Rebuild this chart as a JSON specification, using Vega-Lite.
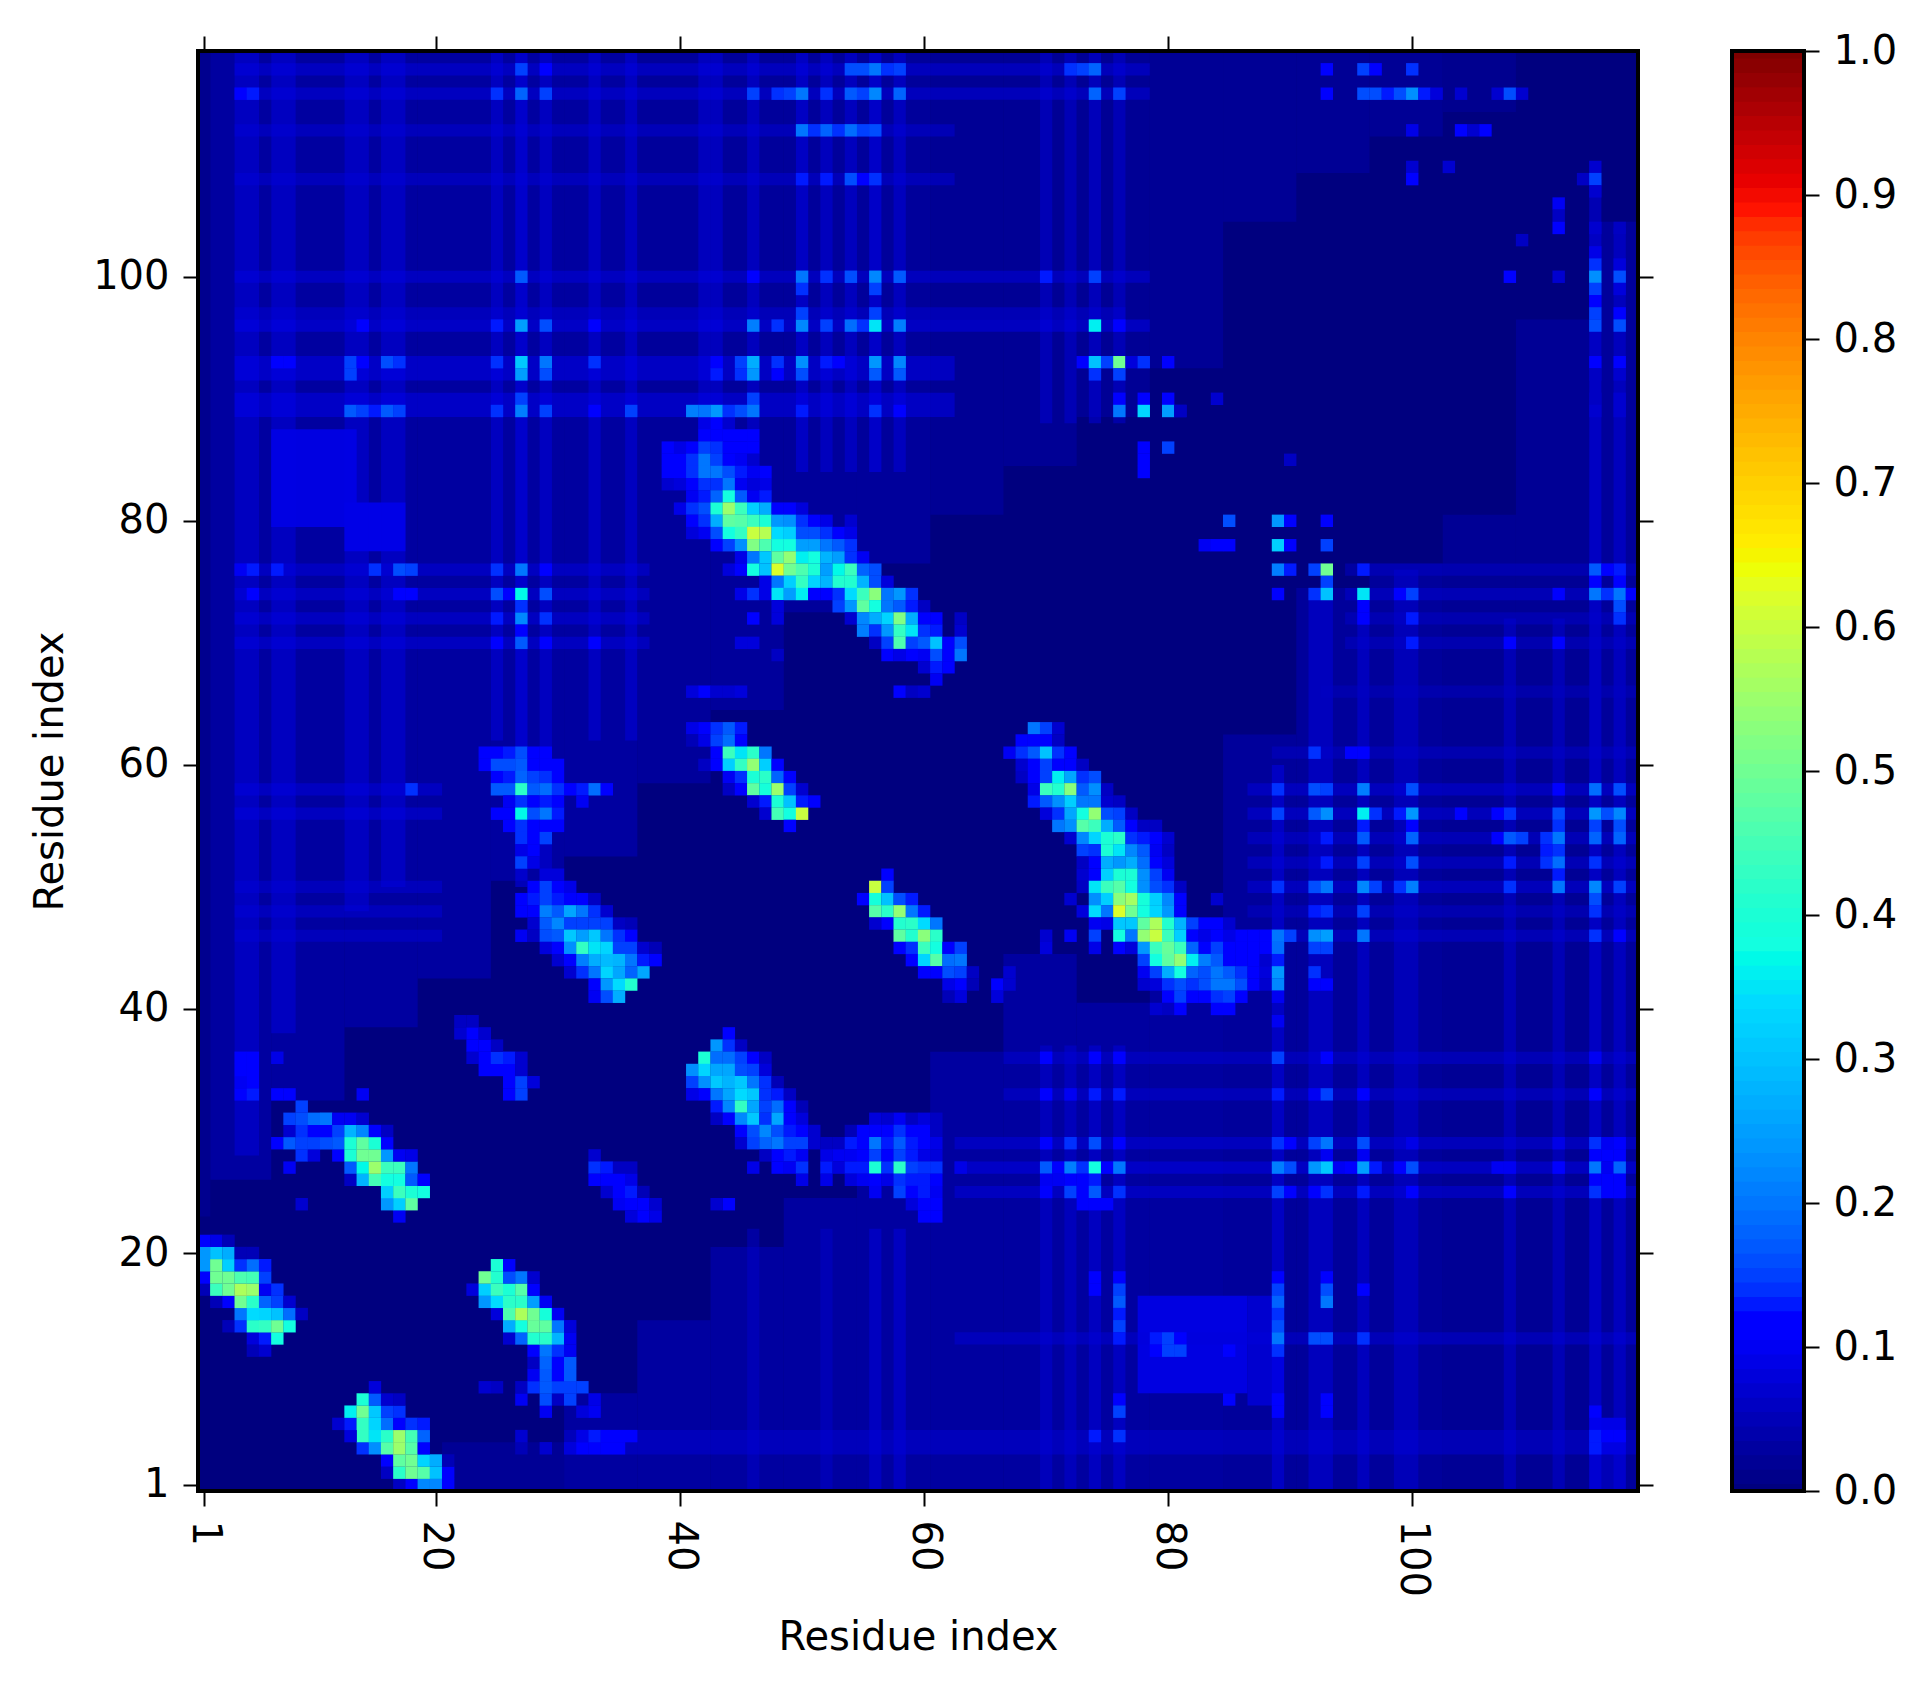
{"$schema":"https://vega.github.io/schema/vega-lite/v6.json","background":"white","padding":{"left":30,"top":31,"right":0,"bottom":0},"spacing":76,"config":{"font":"DejaVu Sans","view":{"stroke":null},"axis":{"labelFont":"DejaVu Sans","titleFont":"DejaVu Sans","labelColor":"black","titleColor":"black","tickColor":"black","grid":false,"domain":false,"tickSize":15,"tickWidth":2,"labelFontSize":40,"titleFontSize":40,"titleFontWeight":"normal","labelPadding":14,"labelFlush":false,"labelOverlap":false}},
"datasets":{"blocks":[
{"x0":0.5,"x1":118.5,"y0":0.5,"y1":118.5,"v":0.0},
{"x0":1.5,"x1":6.5,"y0":26,"y1":118.5,"v":0.03},{"x0":0.5,"x1":1.5,"y0":23,"y1":118.5,"v":0.015},{"x0":6.5,"x1":12.5,"y0":32.5,"y1":118.5,"v":0.03},{"x0":12.5,"x1":18.5,"y0":38.5,"y1":118.5,"v":0.03},{"x0":18.5,"x1":24.5,"y0":42.5,"y1":118.5,"v":0.03},{"x0":24.5,"x1":30.5,"y0":50.5,"y1":118.5,"v":0.03},{"x0":30.5,"x1":36.5,"y0":52.5,"y1":118.5,"v":0.03},{"x0":36.5,"x1":42.5,"y0":58.5,"y1":118.5,"v":0.025},{"x0":42.5,"x1":48.5,"y0":64.5,"y1":118.5,"v":0.025},{"x0":48.5,"x1":54.5,"y0":72.5,"y1":118.5,"v":0.025},{"x0":54.5,"x1":60.5,"y0":76.5,"y1":118.5,"v":0.025},{"x0":60.5,"x1":66.5,"y0":80.5,"y1":118.5,"v":0.02},{"x0":66.5,"x1":72.5,"y0":84.5,"y1":118.5,"v":0.02},{"x0":72.5,"x1":78.5,"y0":88.5,"y1":118.5,"v":0.02},{"x0":78.5,"x1":84.5,"y0":92.5,"y1":118.5,"v":0.02},{"x0":84.5,"x1":90.5,"y0":104.5,"y1":118.5,"v":0.02},{"x0":90.5,"x1":96.5,"y0":108.5,"y1":118.5,"v":0.02},{"x0":96.5,"x1":102.5,"y0":111.5,"y1":118.5,"v":0.02},{"x0":102.5,"x1":108.5,"y0":113.5,"y1":118.5,"v":0.015},
{"x0":20.5,"x1":30.5,"y0":0.5,"y1":4.5,"v":0.02},{"x0":30.5,"x1":36.5,"y0":0.5,"y1":8.5,"v":0.03},{"x0":36.5,"x1":42.5,"y0":0.5,"y1":14.5,"v":0.03},{"x0":42.5,"x1":48.5,"y0":0.5,"y1":20.5,"v":0.03},{"x0":48.5,"x1":54.5,"y0":0.5,"y1":24.5,"v":0.03},{"x0":54.5,"x1":60.5,"y0":0.5,"y1":28.5,"v":0.03},{"x0":60.5,"x1":66.5,"y0":0.5,"y1":36.5,"v":0.03},{"x0":66.5,"x1":72.5,"y0":0.5,"y1":44.5,"v":0.03},{"x0":72.5,"x1":78.5,"y0":0.5,"y1":40.5,"v":0.03},{"x0":78.5,"x1":84.5,"y0":0.5,"y1":46.5,"v":0.03},{"x0":84.5,"x1":90.5,"y0":0.5,"y1":62.5,"v":0.025},{"x0":90.5,"x1":96.5,"y0":0.5,"y1":74.5,"v":0.025},{"x0":96.5,"x1":102.5,"y0":0.5,"y1":76.5,"v":0.025},{"x0":102.5,"x1":108.5,"y0":0.5,"y1":80.5,"v":0.02},{"x0":108.5,"x1":114.5,"y0":0.5,"y1":96.5,"v":0.02},{"x0":114.5,"x1":118.5,"y0":0.5,"y1":104.5,"v":0.025},
{"x0":6.5,"x1":13.5,"y0":79.5,"y1":87.5,"v":0.085},{"x0":12.5,"x1":17.5,"y0":77.5,"y1":81.5,"v":0.09},{"x0":77.5,"x1":86.5,"y0":8.5,"y1":16.5,"v":0.085},{"x0":86.5,"x1":89.5,"y0":7.5,"y1":16.5,"v":0.07},{"x0":114.5,"x1":117.5,"y0":0.5,"y1":3.5,"v":0.05},{"x0":114.5,"x1":117.5,"y0":3.5,"y1":6.5,"v":0.09}
],"stripes":[
{"x0":3.5,"x1":5.5,"y0":28,"y1":118.5,"v":0.09},{"x0":6.5,"x1":8.5,"y0":38,"y1":118.5,"v":0.09},{"x0":12.5,"x1":14.5,"y0":48,"y1":118.5,"v":0.09},{"x0":15.5,"x1":17.5,"y0":50,"y1":118.5,"v":0.09},{"x0":24.5,"x1":25.5,"y0":62,"y1":118.5,"v":0.09},{"x0":26.5,"x1":27.5,"y0":50,"y1":118.5,"v":0.11},{"x0":28.5,"x1":29.5,"y0":50,"y1":118.5,"v":0.09},{"x0":32.5,"x1":33.5,"y0":62,"y1":118.5,"v":0.09},{"x0":35.5,"x1":36.5,"y0":62,"y1":118.5,"v":0.09},{"x0":41.5,"x1":43.5,"y0":84,"y1":118.5,"v":0.09},{"x0":45.5,"x1":46.5,"y0":84,"y1":118.5,"v":0.09},{"x0":49.5,"x1":50.5,"y0":84,"y1":118.5,"v":0.1},{"x0":51.5,"x1":52.5,"y0":84,"y1":118.5,"v":0.09},{"x0":53.5,"x1":54.5,"y0":84,"y1":118.5,"v":0.09},{"x0":55.5,"x1":56.5,"y0":84,"y1":118.5,"v":0.11},{"x0":57.5,"x1":58.5,"y0":84,"y1":118.5,"v":0.09},{"x0":69.5,"x1":70.5,"y0":88,"y1":118.5,"v":0.08},{"x0":71.5,"x1":72.5,"y0":88,"y1":118.5,"v":0.08},{"x0":73.5,"x1":74.5,"y0":88,"y1":118.5,"v":0.09},{"x0":75.5,"x1":76.5,"y0":88,"y1":118.5,"v":0.08},
{"x0":3.5,"x1":78.5,"y0":116.5,"y1":117.5,"v":0.09},{"x0":3.5,"x1":78.5,"y0":114.5,"y1":115.5,"v":0.09},{"x0":3.5,"x1":62.5,"y0":111.5,"y1":112.5,"v":0.08},{"x0":3.5,"x1":62.5,"y0":107.5,"y1":108.5,"v":0.08},{"x0":3.5,"x1":78.5,"y0":99.5,"y1":100.5,"v":0.09},{"x0":3.5,"x1":76.5,"y0":96.5,"y1":97.5,"v":0.08},{"x0":3.5,"x1":78.5,"y0":95.5,"y1":96.5,"v":0.1},{"x0":3.5,"x1":62.5,"y0":91.5,"y1":93.5,"v":0.1},{"x0":3.5,"x1":62.5,"y0":88.5,"y1":90.5,"v":0.1},{"x0":3.5,"x1":37.5,"y0":75.5,"y1":76.5,"v":0.09},{"x0":3.5,"x1":37.5,"y0":73.5,"y1":74.5,"v":0.09},{"x0":3.5,"x1":37.5,"y0":71.5,"y1":72.5,"v":0.09},{"x0":3.5,"x1":37.5,"y0":69.5,"y1":70.5,"v":0.09},{"x0":3.5,"x1":20.5,"y0":57.5,"y1":58.5,"v":0.09},{"x0":3.5,"x1":20.5,"y0":55.5,"y1":56.5,"v":0.09},{"x0":3.5,"x1":20.5,"y0":49.5,"y1":50.5,"v":0.08},{"x0":3.5,"x1":20.5,"y0":47.5,"y1":48.5,"v":0.08},{"x0":3.5,"x1":20.5,"y0":45.5,"y1":46.5,"v":0.08},
{"x0":69.5,"x1":70.5,"y0":0.5,"y1":37,"v":0.08},{"x0":71.5,"x1":72.5,"y0":0.5,"y1":37,"v":0.08},{"x0":73.5,"x1":74.5,"y0":0.5,"y1":37,"v":0.09},{"x0":75.5,"x1":76.5,"y0":0.5,"y1":37,"v":0.09},{"x0":88.5,"x1":89.5,"y0":0.5,"y1":60,"v":0.1},{"x0":91.5,"x1":93.5,"y0":0.5,"y1":74,"v":0.09},{"x0":95.5,"x1":96.5,"y0":0.5,"y1":72,"v":0.09},{"x0":98.5,"x1":100.5,"y0":0.5,"y1":76,"v":0.08},{"x0":107.5,"x1":108.5,"y0":0.5,"y1":72,"v":0.08},{"x0":111.5,"x1":112.5,"y0":0.5,"y1":72,"v":0.08},{"x0":114.5,"x1":115.5,"y0":0.5,"y1":108,"v":0.1},{"x0":116.5,"x1":117.5,"y0":0.5,"y1":104,"v":0.09},{"x0":45.5,"x1":46.5,"y0":0.5,"y1":22,"v":0.07},{"x0":51.5,"x1":52.5,"y0":0.5,"y1":22,"v":0.07},{"x0":55.5,"x1":56.5,"y0":0.5,"y1":22,"v":0.09},{"x0":57.5,"x1":58.5,"y0":0.5,"y1":22,"v":0.09},
{"x0":30.5,"x1":118.5,"y0":3.5,"y1":5.5,"v":0.08},{"x0":62.5,"x1":118.5,"y0":12.5,"y1":13.5,"v":0.08},{"x0":62.5,"x1":118.5,"y0":24.5,"y1":25.5,"v":0.09},{"x0":62.5,"x1":118.5,"y0":26.5,"y1":27.5,"v":0.1},{"x0":62.5,"x1":118.5,"y0":28.5,"y1":29.5,"v":0.09},{"x0":66.5,"x1":118.5,"y0":32.5,"y1":33.5,"v":0.08},{"x0":66.5,"x1":118.5,"y0":35.5,"y1":36.5,"v":0.08},{"x0":86.5,"x1":118.5,"y0":45.5,"y1":46.5,"v":0.08},{"x0":86.5,"x1":118.5,"y0":47.5,"y1":48.5,"v":0.07},{"x0":86.5,"x1":118.5,"y0":49.5,"y1":50.5,"v":0.09},{"x0":86.5,"x1":118.5,"y0":51.5,"y1":52.5,"v":0.08},{"x0":86.5,"x1":118.5,"y0":53.5,"y1":54.5,"v":0.08},{"x0":86.5,"x1":118.5,"y0":55.5,"y1":56.5,"v":0.09},{"x0":86.5,"x1":118.5,"y0":57.5,"y1":58.5,"v":0.09},{"x0":88.5,"x1":118.5,"y0":60.5,"y1":61.5,"v":0.07},{"x0":92.5,"x1":118.5,"y0":65.5,"y1":66.5,"v":0.06},{"x0":94.5,"x1":118.5,"y0":69.5,"y1":70.5,"v":0.07},{"x0":94.5,"x1":118.5,"y0":71.5,"y1":72.5,"v":0.07},{"x0":94.5,"x1":118.5,"y0":73.5,"y1":74.5,"v":0.08},{"x0":94.5,"x1":118.5,"y0":75.5,"y1":76.5,"v":0.07}
],
"cells":[
{"x":17,"y":1,"v":0.06},{"x":18,"y":1,"v":0.11},{"x":19,"y":1,"v":0.22},{"x":20,"y":1,"v":0.22},{"x":21,"y":1,"v":0.11},{"x":16,"y":2,"v":0.06},{"x":17,"y":2,"v":0.42},{"x":18,"y":2,"v":0.5},{"x":19,"y":2,"v":0.47},{"x":20,"y":2,"v":0.3},{"x":21,"y":2,"v":0.11},{"x":16,"y":3,"v":0.12},{"x":17,"y":3,"v":0.48},{"x":18,"y":3,"v":0.5},{"x":19,"y":3,"v":0.33},{"x":20,"y":3,"v":0.27},{"x":21,"y":3,"v":0.05},
{"x":14,"y":4,"v":0.14},{"x":15,"y":4,"v":0.23},{"x":16,"y":4,"v":0.47},{"x":17,"y":4,"v":0.55},{"x":18,"y":4,"v":0.47},{"x":19,"y":4,"v":0.12},{"x":14,"y":5,"v":0.43},{"x":15,"y":5,"v":0.35},{"x":16,"y":5,"v":0.42},{"x":17,"y":5,"v":0.55},{"x":18,"y":5,"v":0.45},{"x":19,"y":5,"v":0.18},{"x":13,"y":5,"v":0.08},{"x":12,"y":6,"v":0.07},{"x":13,"y":6,"v":0.13},{"x":14,"y":6,"v":0.43},{"x":15,"y":6,"v":0.33},{"x":16,"y":6,"v":0.19},{"x":17,"y":6,"v":0.11},{"x":18,"y":6,"v":0.14},{"x":19,"y":6,"v":0.13},{"x":13,"y":7,"v":0.36},{"x":14,"y":7,"v":0.5},{"x":15,"y":7,"v":0.31},{"x":16,"y":7,"v":0.15},{"x":17,"y":7,"v":0.14},{"x":14,"y":8,"v":0.4},{"x":15,"y":8,"v":0.17},{"x":16,"y":8,"v":0.07},{"x":17,"y":8,"v":0.06},{"x":15,"y":9,"v":0.08},
{"x":27,"y":4,"v":0.05},{"x":29,"y":4,"v":0.07},{"x":31,"y":4,"v":0.08},{"x":32,"y":4,"v":0.11},{"x":33,"y":4,"v":0.12},{"x":34,"y":4,"v":0.11},{"x":35,"y":4,"v":0.11},{"x":27,"y":5,"v":0.07},{"x":32,"y":5,"v":0.09},{"x":33,"y":5,"v":0.13},{"x":34,"y":5,"v":0.11},{"x":35,"y":5,"v":0.11},{"x":36,"y":5,"v":0.11},{"x":29,"y":7,"v":0.1},{"x":32,"y":7,"v":0.08},{"x":33,"y":7,"v":0.1},{"x":27,"y":8,"v":0.1},{"x":29,"y":8,"v":0.16},{"x":30,"y":8,"v":0.06},{"x":31,"y":8,"v":0.15},{"x":33,"y":8,"v":0.09},{"x":24,"y":9,"v":0.07},{"x":25,"y":9,"v":0.06},{"x":27,"y":9,"v":0.06},{"x":28,"y":9,"v":0.14},{"x":29,"y":9,"v":0.17},{"x":30,"y":9,"v":0.15},{"x":31,"y":9,"v":0.15},{"x":32,"y":9,"v":0.15},{"x":28,"y":10,"v":0.1},{"x":29,"y":10,"v":0.17},{"x":30,"y":10,"v":0.11},{"x":31,"y":10,"v":0.17},{"x":28,"y":11,"v":0.06},{"x":29,"y":11,"v":0.18},{"x":30,"y":11,"v":0.11},{"x":31,"y":11,"v":0.17},
{"x":5,"y":12,"v":0.05},{"x":6,"y":12,"v":0.07},{"x":28,"y":12,"v":0.11},{"x":29,"y":12,"v":0.2},{"x":30,"y":12,"v":0.14},{"x":31,"y":12,"v":0.1},{"x":5,"y":13,"v":0.08},{"x":6,"y":13,"v":0.13},{"x":7,"y":13,"v":0.38},{"x":26,"y":13,"v":0.07},{"x":27,"y":13,"v":0.18},{"x":28,"y":13,"v":0.41},{"x":29,"y":13,"v":0.42},{"x":30,"y":13,"v":0.28},{"x":31,"y":13,"v":0.1},{"x":3,"y":14,"v":0.05},{"x":4,"y":14,"v":0.14},{"x":5,"y":14,"v":0.42},{"x":6,"y":14,"v":0.43},{"x":7,"y":14,"v":0.5},{"x":8,"y":14,"v":0.38},{"x":26,"y":14,"v":0.27},{"x":27,"y":14,"v":0.38},{"x":28,"y":14,"v":0.49},{"x":29,"y":14,"v":0.48},{"x":30,"y":14,"v":0.2},{"x":31,"y":14,"v":0.08},{"x":4,"y":15,"v":0.2},{"x":5,"y":15,"v":0.34},{"x":6,"y":15,"v":0.33},{"x":7,"y":15,"v":0.3},{"x":8,"y":15,"v":0.19},{"x":9,"y":15,"v":0.06},{"x":25,"y":15,"v":0.08},{"x":26,"y":15,"v":0.46},{"x":27,"y":15,"v":0.57},{"x":28,"y":15,"v":0.5},{"x":29,"y":15,"v":0.39},{"x":30,"y":15,"v":0.1},
{"x":2,"y":16,"v":0.05},{"x":3,"y":16,"v":0.12},{"x":4,"y":16,"v":0.5},{"x":5,"y":16,"v":0.42},{"x":6,"y":16,"v":0.18},{"x":7,"y":16,"v":0.15},{"x":8,"y":16,"v":0.07},{"x":24,"y":16,"v":0.24},{"x":25,"y":16,"v":0.34},{"x":26,"y":16,"v":0.42},{"x":27,"y":16,"v":0.42},{"x":28,"y":16,"v":0.25},{"x":29,"y":16,"v":0.1},{"x":1,"y":17,"v":0.05},{"x":2,"y":17,"v":0.44},{"x":3,"y":17,"v":0.5},{"x":4,"y":17,"v":0.57},{"x":5,"y":17,"v":0.55},{"x":6,"y":17,"v":0.1},{"x":7,"y":17,"v":0.14},{"x":23,"y":17,"v":0.08},{"x":24,"y":17,"v":0.32},{"x":25,"y":17,"v":0.44},{"x":26,"y":17,"v":0.4},{"x":27,"y":17,"v":0.47},{"x":28,"y":17,"v":0.11},{"x":1,"y":18,"v":0.11},{"x":2,"y":18,"v":0.5},{"x":3,"y":18,"v":0.5},{"x":4,"y":18,"v":0.46},{"x":5,"y":18,"v":0.45},{"x":6,"y":18,"v":0.15},{"x":24,"y":18,"v":0.5},{"x":25,"y":18,"v":0.41},{"x":26,"y":18,"v":0.16},{"x":27,"y":18,"v":0.2},{"x":28,"y":18,"v":0.07},{"x":1,"y":19,"v":0.24},{"x":2,"y":19,"v":0.5},{"x":3,"y":19,"v":0.32},{"x":4,"y":19,"v":0.14},{"x":5,"y":19,"v":0.19},{"x":6,"y":19,"v":0.13},{"x":25,"y":19,"v":0.4},{"x":26,"y":19,"v":0.11},{"x":1,"y":20,"v":0.24},{"x":2,"y":20,"v":0.3},{"x":3,"y":20,"v":0.27},{"x":4,"y":20,"v":0.05},{"x":5,"y":20,"v":0.05},{"x":1,"y":21,"v":0.11},{"x":2,"y":21,"v":0.09},{"x":3,"y":21,"v":0.05},
{"x":17,"y":23,"v":0.1},{"x":16,"y":24,"v":0.24},{"x":17,"y":24,"v":0.32},{"x":18,"y":24,"v":0.48},{"x":9,"y":24,"v":0.07},{"x":16,"y":25,"v":0.32},{"x":17,"y":25,"v":0.44},{"x":18,"y":25,"v":0.4},{"x":19,"y":25,"v":0.38},{"x":13,"y":26,"v":0.06},{"x":14,"y":26,"v":0.28},{"x":15,"y":26,"v":0.45},{"x":16,"y":26,"v":0.38},{"x":17,"y":26,"v":0.38},{"x":18,"y":26,"v":0.17},{"x":19,"y":26,"v":0.11},{"x":8,"y":27,"v":0.1},{"x":13,"y":27,"v":0.17},{"x":14,"y":27,"v":0.37},{"x":15,"y":27,"v":0.55},{"x":16,"y":27,"v":0.44},{"x":17,"y":27,"v":0.44},{"x":18,"y":27,"v":0.2},{"x":9,"y":28,"v":0.14},{"x":10,"y":28,"v":0.08},{"x":12,"y":28,"v":0.11},{"x":13,"y":28,"v":0.4},{"x":14,"y":28,"v":0.5},{"x":15,"y":28,"v":0.5},{"x":16,"y":28,"v":0.24},{"x":17,"y":28,"v":0.1},{"x":18,"y":28,"v":0.09},{"x":7,"y":29,"v":0.11},{"x":8,"y":29,"v":0.17},{"x":9,"y":29,"v":0.15},{"x":10,"y":29,"v":0.15},{"x":11,"y":29,"v":0.16},{"x":12,"y":29,"v":0.17},{"x":13,"y":29,"v":0.4},{"x":14,"y":29,"v":0.48},{"x":15,"y":29,"v":0.4},{"x":16,"y":29,"v":0.11},{"x":8,"y":30,"v":0.07},{"x":9,"y":30,"v":0.14},{"x":10,"y":30,"v":0.11},{"x":11,"y":30,"v":0.11},{"x":12,"y":30,"v":0.15},{"x":13,"y":30,"v":0.28},{"x":14,"y":30,"v":0.22},{"x":15,"y":30,"v":0.11},{"x":16,"y":30,"v":0.06},{"x":8,"y":31,"v":0.15},{"x":9,"y":31,"v":0.16},{"x":10,"y":31,"v":0.19},{"x":11,"y":31,"v":0.2},{"x":12,"y":31,"v":0.1},{"x":13,"y":31,"v":0.1},{"x":14,"y":31,"v":0.07},{"x":9,"y":32,"v":0.15},{"x":4,"y":33,"v":0.11},{"x":5,"y":33,"v":0.13},{"x":7,"y":33,"v":0.11},{"x":8,"y":33,"v":0.11},{"x":14,"y":33,"v":0.1},{"x":4,"y":34,"v":0.1},{"x":5,"y":34,"v":0.11},{"x":4,"y":35,"v":0.11},{"x":5,"y":35,"v":0.12},{"x":4,"y":36,"v":0.11},{"x":5,"y":36,"v":0.12},{"x":7,"y":36,"v":0.09},
{"x":26,"y":33,"v":0.12},{"x":27,"y":33,"v":0.15},{"x":26,"y":34,"v":0.12},{"x":27,"y":34,"v":0.15},{"x":28,"y":34,"v":0.08},{"x":24,"y":35,"v":0.11},{"x":25,"y":35,"v":0.12},{"x":26,"y":35,"v":0.12},{"x":27,"y":35,"v":0.07},{"x":23,"y":36,"v":0.07},{"x":24,"y":36,"v":0.11},{"x":25,"y":36,"v":0.14},{"x":26,"y":36,"v":0.13},{"x":27,"y":36,"v":0.07},{"x":23,"y":37,"v":0.11},{"x":24,"y":37,"v":0.11},{"x":25,"y":37,"v":0.06},{"x":22,"y":38,"v":0.07},{"x":23,"y":38,"v":0.11},{"x":24,"y":38,"v":0.07},{"x":22,"y":39,"v":0.06},{"x":23,"y":39,"v":0.06},
{"x":33,"y":28,"v":0.07},{"x":33,"y":27,"v":0.14},{"x":34,"y":27,"v":0.13},{"x":35,"y":27,"v":0.06},{"x":36,"y":27,"v":0.06},{"x":33,"y":26,"v":0.11},{"x":34,"y":26,"v":0.11},{"x":35,"y":26,"v":0.11},{"x":36,"y":26,"v":0.09},{"x":34,"y":25,"v":0.07},{"x":35,"y":25,"v":0.11},{"x":36,"y":25,"v":0.13},{"x":37,"y":25,"v":0.05},{"x":35,"y":24,"v":0.1},{"x":36,"y":24,"v":0.12},{"x":37,"y":24,"v":0.11},{"x":38,"y":24,"v":0.07},{"x":36,"y":23,"v":0.08},{"x":37,"y":23,"v":0.11},{"x":38,"y":23,"v":0.09},
{"x":28,"y":50,"v":0.11},{"x":29,"y":50,"v":0.15},{"x":30,"y":50,"v":0.11},{"x":31,"y":50,"v":0.09},{"x":27,"y":49,"v":0.11},{"x":28,"y":49,"v":0.13},{"x":29,"y":49,"v":0.15},{"x":30,"y":49,"v":0.13},{"x":31,"y":49,"v":0.11},{"x":32,"y":49,"v":0.11},{"x":33,"y":49,"v":0.06},{"x":27,"y":48,"v":0.11},{"x":28,"y":48,"v":0.12},{"x":29,"y":48,"v":0.21},{"x":30,"y":48,"v":0.17},{"x":31,"y":48,"v":0.26},{"x":32,"y":48,"v":0.2},{"x":33,"y":48,"v":0.14},{"x":34,"y":48,"v":0.07},{"x":28,"y":47,"v":0.07},{"x":29,"y":47,"v":0.17},{"x":30,"y":47,"v":0.22},{"x":31,"y":47,"v":0.15},{"x":32,"y":47,"v":0.15},{"x":33,"y":47,"v":0.15},{"x":34,"y":47,"v":0.15},{"x":35,"y":47,"v":0.06},{"x":36,"y":47,"v":0.05},{"x":27,"y":46,"v":0.1},{"x":28,"y":46,"v":0.06},{"x":29,"y":46,"v":0.16},{"x":30,"y":46,"v":0.17},{"x":31,"y":46,"v":0.31},{"x":32,"y":46,"v":0.25},{"x":33,"y":46,"v":0.31},{"x":34,"y":46,"v":0.2},{"x":35,"y":46,"v":0.14},{"x":36,"y":46,"v":0.11},{"x":29,"y":45,"v":0.08},{"x":30,"y":45,"v":0.12},{"x":31,"y":45,"v":0.23},{"x":32,"y":45,"v":0.43},{"x":33,"y":45,"v":0.35},{"x":34,"y":45,"v":0.33},{"x":35,"y":45,"v":0.15},{"x":36,"y":45,"v":0.15},{"x":37,"y":45,"v":0.07},{"x":38,"y":45,"v":0.05},{"x":30,"y":44,"v":0.07},{"x":31,"y":44,"v":0.12},{"x":32,"y":44,"v":0.21},{"x":33,"y":44,"v":0.27},{"x":34,"y":44,"v":0.29},{"x":35,"y":44,"v":0.28},{"x":36,"y":44,"v":0.2},{"x":37,"y":44,"v":0.13},{"x":38,"y":44,"v":0.11},{"x":31,"y":43,"v":0.07},{"x":32,"y":43,"v":0.14},{"x":33,"y":43,"v":0.2},{"x":34,"y":43,"v":0.33},{"x":35,"y":43,"v":0.26},{"x":36,"y":43,"v":0.18},{"x":37,"y":43,"v":0.26},{"x":33,"y":42,"v":0.11},{"x":34,"y":42,"v":0.24},{"x":35,"y":42,"v":0.34},{"x":36,"y":42,"v":0.41},{"x":33,"y":41,"v":0.1},{"x":34,"y":41,"v":0.16},{"x":35,"y":41,"v":0.27},
{"x":44,"y":38,"v":0.11},{"x":43,"y":37,"v":0.24},{"x":44,"y":37,"v":0.14},{"x":45,"y":37,"v":0.06},{"x":42,"y":36,"v":0.4},{"x":43,"y":36,"v":0.19},{"x":44,"y":36,"v":0.19},{"x":45,"y":36,"v":0.15},{"x":46,"y":36,"v":0.11},{"x":47,"y":36,"v":0.06},{"x":41,"y":35,"v":0.23},{"x":42,"y":35,"v":0.33},{"x":43,"y":35,"v":0.26},{"x":44,"y":35,"v":0.26},{"x":45,"y":35,"v":0.16},{"x":46,"y":35,"v":0.15},{"x":47,"y":35,"v":0.08},{"x":41,"y":34,"v":0.15},{"x":42,"y":34,"v":0.23},{"x":43,"y":34,"v":0.31},{"x":44,"y":34,"v":0.28},{"x":45,"y":34,"v":0.31},{"x":46,"y":34,"v":0.2},{"x":47,"y":34,"v":0.14},{"x":48,"y":34,"v":0.05},{"x":41,"y":33,"v":0.09},{"x":42,"y":33,"v":0.11},{"x":43,"y":33,"v":0.2},{"x":44,"y":33,"v":0.26},{"x":45,"y":33,"v":0.34},{"x":46,"y":33,"v":0.31},{"x":47,"y":33,"v":0.14},{"x":48,"y":33,"v":0.13},{"x":49,"y":33,"v":0.06},{"x":43,"y":32,"v":0.13},{"x":44,"y":32,"v":0.22},{"x":45,"y":32,"v":0.43},{"x":46,"y":32,"v":0.26},{"x":47,"y":32,"v":0.15},{"x":48,"y":32,"v":0.19},{"x":49,"y":32,"v":0.11},{"x":50,"y":32,"v":0.05},{"x":43,"y":31,"v":0.06},{"x":44,"y":31,"v":0.11},{"x":45,"y":31,"v":0.22},{"x":46,"y":31,"v":0.31},{"x":47,"y":31,"v":0.14},{"x":48,"y":31,"v":0.26},{"x":49,"y":31,"v":0.11},{"x":50,"y":31,"v":0.08},{"x":56,"y":31,"v":0.08},{"x":57,"y":31,"v":0.07},{"x":58,"y":31,"v":0.1},{"x":59,"y":31,"v":0.06},{"x":60,"y":31,"v":0.08},{"x":61,"y":31,"v":0.06},{"x":45,"y":30,"v":0.11},{"x":46,"y":30,"v":0.16},{"x":47,"y":30,"v":0.22},{"x":48,"y":30,"v":0.16},{"x":49,"y":30,"v":0.13},{"x":50,"y":30,"v":0.11},{"x":51,"y":30,"v":0.07},{"x":54,"y":30,"v":0.05},{"x":55,"y":30,"v":0.11},{"x":56,"y":30,"v":0.12},{"x":57,"y":30,"v":0.11},{"x":58,"y":30,"v":0.14},{"x":59,"y":30,"v":0.11},{"x":60,"y":30,"v":0.11},{"x":61,"y":30,"v":0.06},{"x":45,"y":29,"v":0.07},{"x":46,"y":29,"v":0.15},{"x":47,"y":29,"v":0.18},{"x":48,"y":29,"v":0.2},{"x":49,"y":29,"v":0.15},{"x":50,"y":29,"v":0.15},{"x":51,"y":29,"v":0.07},{"x":52,"y":29,"v":0.06},{"x":53,"y":29,"v":0.06},{"x":54,"y":29,"v":0.13},{"x":55,"y":29,"v":0.11},{"x":56,"y":29,"v":0.2},{"x":57,"y":29,"v":0.13},{"x":58,"y":29,"v":0.17},{"x":59,"y":29,"v":0.13},{"x":60,"y":29,"v":0.11},{"x":61,"y":29,"v":0.09},{"x":47,"y":28,"v":0.06},{"x":48,"y":28,"v":0.11},{"x":49,"y":28,"v":0.13},{"x":50,"y":28,"v":0.1},{"x":52,"y":28,"v":0.09},{"x":53,"y":28,"v":0.1},{"x":54,"y":28,"v":0.1},{"x":55,"y":28,"v":0.11},{"x":56,"y":28,"v":0.15},{"x":57,"y":28,"v":0.11},{"x":58,"y":28,"v":0.15},{"x":59,"y":28,"v":0.13},{"x":60,"y":28,"v":0.09},{"x":61,"y":28,"v":0.08},{"x":46,"y":27,"v":0.09},{"x":48,"y":27,"v":0.11},{"x":49,"y":27,"v":0.1},{"x":50,"y":27,"v":0.14},{"x":52,"y":27,"v":0.13},{"x":53,"y":27,"v":0.08},{"x":54,"y":27,"v":0.13},{"x":55,"y":27,"v":0.13},{"x":56,"y":27,"v":0.4},{"x":57,"y":27,"v":0.14},{"x":58,"y":27,"v":0.42},{"x":59,"y":27,"v":0.15},{"x":60,"y":27,"v":0.14},{"x":61,"y":27,"v":0.14},{"x":63,"y":27,"v":0.09},{"x":50,"y":26,"v":0.09},{"x":52,"y":26,"v":0.09},{"x":54,"y":26,"v":0.08},{"x":55,"y":26,"v":0.1},{"x":56,"y":26,"v":0.11},{"x":57,"y":26,"v":0.09},{"x":58,"y":26,"v":0.14},{"x":59,"y":26,"v":0.13},{"x":60,"y":26,"v":0.13},{"x":61,"y":26,"v":0.12},{"x":56,"y":25,"v":0.1},{"x":58,"y":25,"v":0.15},{"x":59,"y":25,"v":0.11},{"x":60,"y":25,"v":0.13},{"x":61,"y":25,"v":0.1},{"x":44,"y":24,"v":0.11},{"x":43,"y":24,"v":0.07},{"x":59,"y":24,"v":0.08},{"x":60,"y":24,"v":0.11},{"x":61,"y":24,"v":0.11},{"x":60,"y":23,"v":0.11},{"x":61,"y":23,"v":0.11},
{"x":57,"y":51,"v":0.11},{"x":56,"y":50,"v":0.6},{"x":57,"y":50,"v":0.15},{"x":55,"y":49,"v":0.11},{"x":56,"y":49,"v":0.39},{"x":57,"y":49,"v":0.3},{"x":58,"y":49,"v":0.16},{"x":59,"y":49,"v":0.13},{"x":56,"y":48,"v":0.47},{"x":57,"y":48,"v":0.42},{"x":58,"y":48,"v":0.54},{"x":59,"y":48,"v":0.2},{"x":60,"y":48,"v":0.13},{"x":56,"y":47,"v":0.07},{"x":57,"y":47,"v":0.12},{"x":58,"y":47,"v":0.41},{"x":59,"y":47,"v":0.42},{"x":60,"y":47,"v":0.34},{"x":61,"y":47,"v":0.2},{"x":58,"y":46,"v":0.48},{"x":59,"y":46,"v":0.41},{"x":60,"y":46,"v":0.53},{"x":61,"y":46,"v":0.42},{"x":58,"y":45,"v":0.11},{"x":59,"y":45,"v":0.14},{"x":60,"y":45,"v":0.44},{"x":61,"y":45,"v":0.38},{"x":62,"y":45,"v":0.12},{"x":63,"y":45,"v":0.15},{"x":59,"y":44,"v":0.11},{"x":60,"y":44,"v":0.33},{"x":61,"y":44,"v":0.47},{"x":62,"y":44,"v":0.19},{"x":63,"y":44,"v":0.2},{"x":60,"y":43,"v":0.12},{"x":61,"y":43,"v":0.12},{"x":62,"y":43,"v":0.16},{"x":63,"y":43,"v":0.15},{"x":64,"y":43,"v":0.06},{"x":62,"y":42,"v":0.09},{"x":63,"y":42,"v":0.11},{"x":64,"y":42,"v":0.05},{"x":62,"y":41,"v":0.05},{"x":63,"y":41,"v":0.08},
{"x":42,"y":88,"v":0.09},{"x":43,"y":88,"v":0.11},{"x":44,"y":88,"v":0.07},{"x":42,"y":87,"v":0.11},{"x":43,"y":87,"v":0.11},{"x":44,"y":87,"v":0.11},{"x":45,"y":87,"v":0.11},{"x":46,"y":87,"v":0.11},{"x":39,"y":86,"v":0.12},{"x":40,"y":86,"v":0.09},{"x":41,"y":86,"v":0.11},{"x":42,"y":86,"v":0.15},{"x":43,"y":86,"v":0.14},{"x":44,"y":86,"v":0.11},{"x":45,"y":86,"v":0.11},{"x":46,"y":86,"v":0.11},{"x":39,"y":85,"v":0.11},{"x":40,"y":85,"v":0.11},{"x":41,"y":85,"v":0.14},{"x":42,"y":85,"v":0.2},{"x":43,"y":85,"v":0.15},{"x":44,"y":85,"v":0.11},{"x":45,"y":85,"v":0.1},{"x":46,"y":85,"v":0.07},{"x":39,"y":84,"v":0.11},{"x":40,"y":84,"v":0.11},{"x":41,"y":84,"v":0.14},{"x":42,"y":84,"v":0.2},{"x":43,"y":84,"v":0.2},{"x":44,"y":84,"v":0.16},{"x":45,"y":84,"v":0.13},{"x":46,"y":84,"v":0.1},{"x":47,"y":84,"v":0.11},{"x":39,"y":83,"v":0.07},{"x":40,"y":83,"v":0.08},{"x":41,"y":83,"v":0.11},{"x":42,"y":83,"v":0.14},{"x":43,"y":83,"v":0.14},{"x":44,"y":83,"v":0.2},{"x":45,"y":83,"v":0.1},{"x":46,"y":83,"v":0.08},{"x":47,"y":83,"v":0.09},{"x":41,"y":82,"v":0.1},{"x":42,"y":82,"v":0.13},{"x":43,"y":82,"v":0.18},{"x":44,"y":82,"v":0.38},{"x":45,"y":82,"v":0.17},{"x":46,"y":82,"v":0.1},{"x":47,"y":82,"v":0.13},{"x":40,"y":81,"v":0.09},{"x":41,"y":81,"v":0.14},{"x":42,"y":81,"v":0.16},{"x":43,"y":81,"v":0.4},{"x":44,"y":81,"v":0.55},{"x":45,"y":81,"v":0.44},{"x":46,"y":81,"v":0.32},{"x":47,"y":81,"v":0.27},{"x":48,"y":81,"v":0.11},{"x":49,"y":81,"v":0.11},{"x":50,"y":81,"v":0.08},{"x":41,"y":80,"v":0.11},{"x":42,"y":80,"v":0.14},{"x":43,"y":80,"v":0.27},{"x":44,"y":80,"v":0.48},{"x":45,"y":80,"v":0.47},{"x":46,"y":80,"v":0.44},{"x":47,"y":80,"v":0.4},{"x":48,"y":80,"v":0.24},{"x":49,"y":80,"v":0.23},{"x":50,"y":80,"v":0.14},{"x":51,"y":80,"v":0.11},{"x":52,"y":80,"v":0.09},{"x":54,"y":80,"v":0.07},{"x":41,"y":79,"v":0.08},{"x":42,"y":79,"v":0.1},{"x":43,"y":79,"v":0.16},{"x":44,"y":79,"v":0.38},{"x":45,"y":79,"v":0.43},{"x":46,"y":79,"v":0.6},{"x":47,"y":79,"v":0.58},{"x":48,"y":79,"v":0.34},{"x":49,"y":79,"v":0.32},{"x":50,"y":79,"v":0.16},{"x":51,"y":79,"v":0.16},{"x":52,"y":79,"v":0.14},{"x":53,"y":79,"v":0.11},{"x":54,"y":79,"v":0.09},{"x":43,"y":78,"v":0.11},{"x":44,"y":78,"v":0.15},{"x":45,"y":78,"v":0.23},{"x":46,"y":78,"v":0.52},{"x":47,"y":78,"v":0.46},{"x":48,"y":78,"v":0.38},{"x":49,"y":78,"v":0.38},{"x":50,"y":78,"v":0.25},{"x":51,"y":78,"v":0.25},{"x":52,"y":78,"v":0.2},{"x":53,"y":78,"v":0.17},{"x":54,"y":78,"v":0.14},{"x":45,"y":77,"v":0.09},{"x":46,"y":77,"v":0.2},{"x":47,"y":77,"v":0.31},{"x":48,"y":77,"v":0.48},{"x":49,"y":77,"v":0.54},{"x":50,"y":77,"v":0.36},{"x":51,"y":77,"v":0.38},{"x":52,"y":77,"v":0.28},{"x":53,"y":77,"v":0.25},{"x":54,"y":77,"v":0.14},{"x":55,"y":77,"v":0.1},{"x":44,"y":76,"v":0.08},{"x":45,"y":76,"v":0.11},{"x":46,"y":76,"v":0.38},{"x":47,"y":76,"v":0.3},{"x":48,"y":76,"v":0.62},{"x":49,"y":76,"v":0.5},{"x":50,"y":76,"v":0.46},{"x":51,"y":76,"v":0.4},{"x":52,"y":76,"v":0.25},{"x":53,"y":76,"v":0.37},{"x":54,"y":76,"v":0.44},{"x":55,"y":76,"v":0.18},{"x":56,"y":76,"v":0.16},{"x":47,"y":75,"v":0.09},{"x":48,"y":75,"v":0.2},{"x":49,"y":75,"v":0.32},{"x":50,"y":75,"v":0.43},{"x":51,"y":75,"v":0.33},{"x":52,"y":75,"v":0.28},{"x":53,"y":75,"v":0.41},{"x":54,"y":75,"v":0.41},{"x":55,"y":75,"v":0.28},{"x":56,"y":75,"v":0.16},{"x":57,"y":75,"v":0.08},{"x":45,"y":74,"v":0.09},{"x":46,"y":74,"v":0.14},{"x":47,"y":74,"v":0.09},{"x":48,"y":74,"v":0.35},{"x":49,"y":74,"v":0.25},{"x":50,"y":74,"v":0.36},{"x":51,"y":74,"v":0.11},{"x":52,"y":74,"v":0.11},{"x":53,"y":74,"v":0.14},{"x":54,"y":74,"v":0.34},{"x":55,"y":74,"v":0.44},{"x":56,"y":74,"v":0.53},{"x":57,"y":74,"v":0.2},{"x":58,"y":74,"v":0.24},{"x":59,"y":74,"v":0.14},{"x":48,"y":73,"v":0.08},{"x":53,"y":73,"v":0.15},{"x":54,"y":73,"v":0.24},{"x":55,"y":73,"v":0.48},{"x":56,"y":73,"v":0.38},{"x":57,"y":73,"v":0.2},{"x":58,"y":73,"v":0.17},{"x":59,"y":73,"v":0.13},{"x":60,"y":73,"v":0.06},{"x":46,"y":72,"v":0.11},{"x":48,"y":72,"v":0.08},{"x":54,"y":72,"v":0.07},{"x":55,"y":72,"v":0.22},{"x":56,"y":72,"v":0.27},{"x":57,"y":72,"v":0.33},{"x":58,"y":72,"v":0.52},{"x":59,"y":72,"v":0.27},{"x":60,"y":72,"v":0.11},{"x":61,"y":72,"v":0.11},{"x":63,"y":72,"v":0.06},{"x":55,"y":71,"v":0.21},{"x":56,"y":71,"v":0.14},{"x":57,"y":71,"v":0.24},{"x":58,"y":71,"v":0.43},{"x":59,"y":71,"v":0.35},{"x":60,"y":71,"v":0.14},{"x":61,"y":71,"v":0.13},{"x":63,"y":71,"v":0.07},{"x":45,"y":70,"v":0.08},{"x":46,"y":70,"v":0.08},{"x":56,"y":70,"v":0.06},{"x":57,"y":70,"v":0.15},{"x":58,"y":70,"v":0.46},{"x":59,"y":70,"v":0.15},{"x":60,"y":70,"v":0.17},{"x":61,"y":70,"v":0.3},{"x":62,"y":70,"v":0.11},{"x":63,"y":70,"v":0.16},{"x":48,"y":69,"v":0.06},{"x":57,"y":69,"v":0.12},{"x":58,"y":69,"v":0.09},{"x":59,"y":69,"v":0.11},{"x":60,"y":69,"v":0.1},{"x":61,"y":69,"v":0.16},{"x":62,"y":69,"v":0.11},{"x":63,"y":69,"v":0.2},{"x":60,"y":68,"v":0.07},{"x":61,"y":68,"v":0.13},{"x":62,"y":68,"v":0.11},{"x":61,"y":67,"v":0.1},{"x":41,"y":66,"v":0.08},{"x":42,"y":66,"v":0.11},{"x":43,"y":66,"v":0.07},{"x":44,"y":66,"v":0.07},{"x":45,"y":66,"v":0.08},{"x":58,"y":66,"v":0.11},{"x":59,"y":66,"v":0.06},{"x":60,"y":66,"v":0.07},
{"x":41,"y":63,"v":0.09},{"x":42,"y":63,"v":0.11},{"x":43,"y":63,"v":0.14},{"x":44,"y":63,"v":0.17},{"x":45,"y":63,"v":0.13},{"x":41,"y":62,"v":0.05},{"x":42,"y":62,"v":0.09},{"x":43,"y":62,"v":0.15},{"x":44,"y":62,"v":0.19},{"x":45,"y":62,"v":0.11},{"x":43,"y":61,"v":0.11},{"x":44,"y":61,"v":0.44},{"x":45,"y":61,"v":0.35},{"x":46,"y":61,"v":0.42},{"x":47,"y":61,"v":0.2},{"x":42,"y":60,"v":0.06},{"x":43,"y":60,"v":0.12},{"x":44,"y":60,"v":0.32},{"x":45,"y":60,"v":0.43},{"x":46,"y":60,"v":0.54},{"x":47,"y":60,"v":0.32},{"x":48,"y":60,"v":0.11},{"x":44,"y":59,"v":0.1},{"x":45,"y":59,"v":0.14},{"x":46,"y":59,"v":0.4},{"x":47,"y":59,"v":0.42},{"x":48,"y":59,"v":0.18},{"x":49,"y":59,"v":0.11},{"x":44,"y":58,"v":0.06},{"x":45,"y":58,"v":0.11},{"x":46,"y":58,"v":0.48},{"x":47,"y":58,"v":0.39},{"x":48,"y":58,"v":0.55},{"x":49,"y":58,"v":0.15},{"x":50,"y":58,"v":0.07},{"x":46,"y":57,"v":0.07},{"x":47,"y":57,"v":0.13},{"x":48,"y":57,"v":0.4},{"x":49,"y":57,"v":0.3},{"x":50,"y":57,"v":0.13},{"x":51,"y":57,"v":0.11},{"x":47,"y":56,"v":0.07},{"x":48,"y":56,"v":0.45},{"x":49,"y":56,"v":0.38},{"x":50,"y":56,"v":0.6},{"x":49,"y":55,"v":0.11},
{"x":69,"y":63,"v":0.2},{"x":70,"y":63,"v":0.15},{"x":71,"y":63,"v":0.07},{"x":68,"y":62,"v":0.11},{"x":69,"y":62,"v":0.11},{"x":70,"y":62,"v":0.11},{"x":71,"y":62,"v":0.06},{"x":67,"y":61,"v":0.1},{"x":68,"y":61,"v":0.14},{"x":69,"y":61,"v":0.17},{"x":70,"y":61,"v":0.3},{"x":71,"y":61,"v":0.14},{"x":72,"y":61,"v":0.11},{"x":68,"y":60,"v":0.07},{"x":69,"y":60,"v":0.11},{"x":70,"y":60,"v":0.15},{"x":71,"y":60,"v":0.12},{"x":72,"y":60,"v":0.11},{"x":73,"y":60,"v":0.06},{"x":68,"y":59,"v":0.06},{"x":69,"y":59,"v":0.11},{"x":70,"y":59,"v":0.15},{"x":71,"y":59,"v":0.36},{"x":72,"y":59,"v":0.26},{"x":73,"y":59,"v":0.14},{"x":74,"y":59,"v":0.16},{"x":69,"y":58,"v":0.09},{"x":70,"y":58,"v":0.44},{"x":71,"y":58,"v":0.41},{"x":72,"y":58,"v":0.53},{"x":73,"y":58,"v":0.17},{"x":74,"y":58,"v":0.23},{"x":75,"y":58,"v":0.06},{"x":69,"y":57,"v":0.13},{"x":70,"y":57,"v":0.17},{"x":71,"y":57,"v":0.23},{"x":72,"y":57,"v":0.32},{"x":73,"y":57,"v":0.2},{"x":74,"y":57,"v":0.2},{"x":75,"y":57,"v":0.07},{"x":76,"y":57,"v":0.06},{"x":70,"y":56,"v":0.08},{"x":71,"y":56,"v":0.14},{"x":72,"y":56,"v":0.26},{"x":73,"y":56,"v":0.38},{"x":74,"y":56,"v":0.54},{"x":75,"y":56,"v":0.16},{"x":76,"y":56,"v":0.15},{"x":77,"y":56,"v":0.06},{"x":71,"y":55,"v":0.2},{"x":72,"y":55,"v":0.23},{"x":73,"y":55,"v":0.47},{"x":74,"y":55,"v":0.44},{"x":75,"y":55,"v":0.27},{"x":76,"y":55,"v":0.17},{"x":77,"y":55,"v":0.11},{"x":78,"y":55,"v":0.06},{"x":79,"y":55,"v":0.06},{"x":72,"y":54,"v":0.07},{"x":73,"y":54,"v":0.22},{"x":74,"y":54,"v":0.33},{"x":75,"y":54,"v":0.4},{"x":76,"y":54,"v":0.42},{"x":77,"y":54,"v":0.14},{"x":78,"y":54,"v":0.13},{"x":79,"y":54,"v":0.11},{"x":80,"y":54,"v":0.07},{"x":73,"y":53,"v":0.15},{"x":74,"y":53,"v":0.14},{"x":75,"y":53,"v":0.4},{"x":76,"y":53,"v":0.35},{"x":77,"y":53,"v":0.22},{"x":78,"y":53,"v":0.17},{"x":79,"y":53,"v":0.1},{"x":80,"y":53,"v":0.06},{"x":73,"y":52,"v":0.06},{"x":74,"y":52,"v":0.11},{"x":75,"y":52,"v":0.27},{"x":76,"y":52,"v":0.24},{"x":77,"y":52,"v":0.27},{"x":78,"y":52,"v":0.19},{"x":79,"y":52,"v":0.12},{"x":80,"y":52,"v":0.08},{"x":73,"y":51,"v":0.07},{"x":74,"y":51,"v":0.11},{"x":75,"y":51,"v":0.32},{"x":76,"y":51,"v":0.4},{"x":77,"y":51,"v":0.4},{"x":78,"y":51,"v":0.23},{"x":79,"y":51,"v":0.15},{"x":80,"y":51,"v":0.1},{"x":73,"y":50,"v":0.06},{"x":74,"y":50,"v":0.35},{"x":75,"y":50,"v":0.44},{"x":76,"y":50,"v":0.47},{"x":77,"y":50,"v":0.38},{"x":78,"y":50,"v":0.23},{"x":79,"y":50,"v":0.16},{"x":80,"y":50,"v":0.14},{"x":81,"y":50,"v":0.06},{"x":72,"y":49,"v":0.07},{"x":74,"y":49,"v":0.23},{"x":75,"y":49,"v":0.32},{"x":76,"y":49,"v":0.53},{"x":77,"y":49,"v":0.56},{"x":78,"y":49,"v":0.39},{"x":79,"y":49,"v":0.32},{"x":80,"y":49,"v":0.22},{"x":81,"y":49,"v":0.11},{"x":84,"y":49,"v":0.07},{"x":73,"y":48,"v":0.08},{"x":74,"y":48,"v":0.34},{"x":75,"y":48,"v":0.2},{"x":76,"y":48,"v":0.62},{"x":77,"y":48,"v":0.5},{"x":78,"y":48,"v":0.38},{"x":79,"y":48,"v":0.33},{"x":80,"y":48,"v":0.24},{"x":81,"y":48,"v":0.11},{"x":74,"y":47,"v":0.1},{"x":75,"y":47,"v":0.09},{"x":76,"y":47,"v":0.31},{"x":77,"y":47,"v":0.31},{"x":78,"y":47,"v":0.48},{"x":79,"y":47,"v":0.57},{"x":80,"y":47,"v":0.41},{"x":81,"y":47,"v":0.28},{"x":82,"y":47,"v":0.15},{"x":83,"y":47,"v":0.11},{"x":84,"y":47,"v":0.11},{"x":85,"y":47,"v":0.07},{"x":70,"y":46,"v":0.07},{"x":72,"y":46,"v":0.1},{"x":74,"y":46,"v":0.15},{"x":76,"y":46,"v":0.38},{"x":77,"y":46,"v":0.2},{"x":78,"y":46,"v":0.54},{"x":79,"y":46,"v":0.6},{"x":80,"y":46,"v":0.44},{"x":81,"y":46,"v":0.32},{"x":82,"y":46,"v":0.11},{"x":83,"y":46,"v":0.09},{"x":84,"y":46,"v":0.11},{"x":85,"y":46,"v":0.09},{"x":86,"y":46,"v":0.11},{"x":87,"y":46,"v":0.11},{"x":88,"y":46,"v":0.11},{"x":70,"y":45,"v":0.08},{"x":74,"y":45,"v":0.09},{"x":76,"y":45,"v":0.11},{"x":77,"y":45,"v":0.08},{"x":78,"y":45,"v":0.24},{"x":79,"y":45,"v":0.44},{"x":80,"y":45,"v":0.49},{"x":81,"y":45,"v":0.44},{"x":82,"y":45,"v":0.18},{"x":83,"y":45,"v":0.11},{"x":84,"y":45,"v":0.15},{"x":85,"y":45,"v":0.11},{"x":86,"y":45,"v":0.11},{"x":87,"y":45,"v":0.11},{"x":88,"y":45,"v":0.11},{"x":78,"y":44,"v":0.15},{"x":79,"y":44,"v":0.38},{"x":80,"y":44,"v":0.48},{"x":81,"y":44,"v":0.54},{"x":82,"y":44,"v":0.36},{"x":83,"y":44,"v":0.21},{"x":84,"y":44,"v":0.17},{"x":85,"y":44,"v":0.11},{"x":86,"y":44,"v":0.11},{"x":87,"y":44,"v":0.11},{"x":88,"y":44,"v":0.07},{"x":67,"y":43,"v":0.07},{"x":78,"y":43,"v":0.1},{"x":79,"y":43,"v":0.15},{"x":80,"y":43,"v":0.27},{"x":81,"y":43,"v":0.38},{"x":82,"y":43,"v":0.18},{"x":83,"y":43,"v":0.16},{"x":84,"y":43,"v":0.2},{"x":85,"y":43,"v":0.17},{"x":86,"y":43,"v":0.14},{"x":87,"y":43,"v":0.11},{"x":88,"y":43,"v":0.08},{"x":66,"y":42,"v":0.11},{"x":67,"y":42,"v":0.07},{"x":78,"y":42,"v":0.07},{"x":79,"y":42,"v":0.08},{"x":80,"y":42,"v":0.14},{"x":81,"y":42,"v":0.16},{"x":82,"y":42,"v":0.14},{"x":83,"y":42,"v":0.16},{"x":84,"y":42,"v":0.2},{"x":85,"y":42,"v":0.2},{"x":86,"y":42,"v":0.16},{"x":87,"y":42,"v":0.11},{"x":88,"y":42,"v":0.07},{"x":66,"y":41,"v":0.08},{"x":80,"y":41,"v":0.11},{"x":81,"y":41,"v":0.15},{"x":82,"y":41,"v":0.11},{"x":83,"y":41,"v":0.11},{"x":84,"y":41,"v":0.14},{"x":85,"y":41,"v":0.15},{"x":86,"y":41,"v":0.11},{"x":79,"y":40,"v":0.07},{"x":80,"y":40,"v":0.06},{"x":81,"y":40,"v":0.11},{"x":84,"y":40,"v":0.11},{"x":85,"y":40,"v":0.11},
{"x":27,"y":117,"v":0.15},{"x":29,"y":117,"v":0.11},{"x":54,"y":117,"v":0.16},{"x":55,"y":117,"v":0.16},{"x":56,"y":117,"v":0.2},{"x":57,"y":117,"v":0.14},{"x":58,"y":117,"v":0.15},{"x":72,"y":117,"v":0.14},{"x":73,"y":117,"v":0.15},{"x":74,"y":117,"v":0.18},{"x":4,"y":115,"v":0.11},{"x":5,"y":115,"v":0.13},{"x":25,"y":115,"v":0.14},{"x":27,"y":115,"v":0.18},{"x":29,"y":115,"v":0.15},{"x":46,"y":115,"v":0.15},{"x":48,"y":115,"v":0.14},{"x":49,"y":115,"v":0.15},{"x":50,"y":115,"v":0.2},{"x":52,"y":115,"v":0.14},{"x":54,"y":115,"v":0.17},{"x":55,"y":115,"v":0.15},{"x":56,"y":115,"v":0.22},{"x":58,"y":115,"v":0.18},{"x":74,"y":115,"v":0.18},{"x":76,"y":115,"v":0.15},{"x":50,"y":112,"v":0.2},{"x":51,"y":112,"v":0.14},{"x":52,"y":112,"v":0.18},{"x":53,"y":112,"v":0.14},{"x":54,"y":112,"v":0.19},{"x":55,"y":112,"v":0.15},{"x":56,"y":112,"v":0.16},{"x":50,"y":108,"v":0.13},{"x":52,"y":108,"v":0.13},{"x":54,"y":108,"v":0.16},{"x":55,"y":108,"v":0.12},{"x":56,"y":108,"v":0.14},{"x":27,"y":100,"v":0.17},{"x":50,"y":100,"v":0.2},{"x":52,"y":100,"v":0.14},{"x":54,"y":100,"v":0.16},{"x":56,"y":100,"v":0.22},{"x":58,"y":100,"v":0.17},{"x":70,"y":100,"v":0.13},{"x":74,"y":100,"v":0.15},{"x":46,"y":100,"v":0.12},{"x":50,"y":99,"v":0.14},{"x":56,"y":99,"v":0.15},{"x":27,"y":96,"v":0.25},{"x":29,"y":96,"v":0.16},{"x":25,"y":96,"v":0.13},{"x":14,"y":96,"v":0.12},{"x":33,"y":96,"v":0.12},{"x":46,"y":96,"v":0.21},{"x":48,"y":96,"v":0.14},{"x":50,"y":96,"v":0.22},{"x":52,"y":96,"v":0.15},{"x":54,"y":96,"v":0.19},{"x":55,"y":96,"v":0.14},{"x":56,"y":96,"v":0.35},{"x":58,"y":96,"v":0.21},{"x":74,"y":96,"v":0.36},{"x":76,"y":96,"v":0.12},{"x":50,"y":97,"v":0.15},{"x":56,"y":97,"v":0.15},
{"x":27,"y":93,"v":0.31},{"x":29,"y":93,"v":0.2},{"x":25,"y":93,"v":0.14},{"x":7,"y":93,"v":0.12},{"x":8,"y":93,"v":0.12},{"x":13,"y":93,"v":0.15},{"x":14,"y":93,"v":0.12},{"x":16,"y":93,"v":0.16},{"x":17,"y":93,"v":0.14},{"x":33,"y":93,"v":0.14},{"x":43,"y":93,"v":0.12},{"x":45,"y":93,"v":0.15},{"x":46,"y":93,"v":0.27},{"x":48,"y":93,"v":0.14},{"x":50,"y":93,"v":0.23},{"x":52,"y":93,"v":0.13},{"x":53,"y":93,"v":0.12},{"x":56,"y":93,"v":0.24},{"x":58,"y":93,"v":0.22},{"x":73,"y":93,"v":0.11},{"x":74,"y":93,"v":0.3},{"x":75,"y":93,"v":0.15},{"x":76,"y":93,"v":0.5},{"x":77,"y":93,"v":0.08},{"x":78,"y":93,"v":0.14},{"x":80,"y":93,"v":0.12},{"x":27,"y":92,"v":0.25},{"x":29,"y":92,"v":0.16},{"x":13,"y":92,"v":0.15},{"x":43,"y":92,"v":0.13},{"x":45,"y":92,"v":0.14},{"x":46,"y":92,"v":0.24},{"x":48,"y":92,"v":0.12},{"x":50,"y":92,"v":0.16},{"x":56,"y":92,"v":0.17},{"x":58,"y":92,"v":0.17},{"x":74,"y":92,"v":0.14},{"x":76,"y":92,"v":0.15},{"x":27,"y":90,"v":0.15},{"x":46,"y":90,"v":0.15},{"x":76,"y":90,"v":0.12},{"x":78,"y":90,"v":0.12},{"x":80,"y":90,"v":0.11},{"x":27,"y":89,"v":0.21},{"x":29,"y":89,"v":0.15},{"x":25,"y":89,"v":0.14},{"x":13,"y":89,"v":0.17},{"x":14,"y":89,"v":0.15},{"x":15,"y":89,"v":0.13},{"x":16,"y":89,"v":0.17},{"x":17,"y":89,"v":0.15},{"x":33,"y":89,"v":0.12},{"x":36,"y":89,"v":0.15},{"x":41,"y":89,"v":0.21},{"x":42,"y":89,"v":0.2},{"x":43,"y":89,"v":0.24},{"x":44,"y":89,"v":0.14},{"x":45,"y":89,"v":0.16},{"x":46,"y":89,"v":0.2},{"x":50,"y":89,"v":0.13},{"x":56,"y":89,"v":0.14},{"x":58,"y":89,"v":0.12},{"x":76,"y":89,"v":0.2},{"x":78,"y":89,"v":0.33},{"x":80,"y":89,"v":0.25},{"x":81,"y":89,"v":0.08},{"x":80,"y":86,"v":0.15},{"x":78,"y":86,"v":0.11},{"x":78,"y":85,"v":0.11},{"x":78,"y":84,"v":0.11},
{"x":4,"y":76,"v":0.1},{"x":5,"y":76,"v":0.13},{"x":7,"y":76,"v":0.13},{"x":15,"y":76,"v":0.14},{"x":17,"y":76,"v":0.16},{"x":18,"y":76,"v":0.15},{"x":25,"y":76,"v":0.14},{"x":27,"y":76,"v":0.2},{"x":29,"y":76,"v":0.11},{"x":25,"y":74,"v":0.16},{"x":26,"y":74,"v":0.11},{"x":27,"y":74,"v":0.37},{"x":29,"y":74,"v":0.16},{"x":5,"y":74,"v":0.12},{"x":17,"y":74,"v":0.12},{"x":18,"y":74,"v":0.12},{"x":25,"y":72,"v":0.13},{"x":27,"y":72,"v":0.22},{"x":29,"y":72,"v":0.14},{"x":27,"y":73,"v":0.14},{"x":27,"y":71,"v":0.12},{"x":25,"y":70,"v":0.11},{"x":27,"y":70,"v":0.17},{"x":29,"y":70,"v":0.11},{"x":33,"y":70,"v":0.11},{"x":24,"y":61,"v":0.11},{"x":25,"y":61,"v":0.12},{"x":26,"y":61,"v":0.13},{"x":27,"y":61,"v":0.16},{"x":28,"y":61,"v":0.11},{"x":29,"y":61,"v":0.11},{"x":24,"y":60,"v":0.11},{"x":25,"y":60,"v":0.16},{"x":26,"y":60,"v":0.16},{"x":27,"y":60,"v":0.17},{"x":28,"y":60,"v":0.11},{"x":29,"y":60,"v":0.12},{"x":30,"y":60,"v":0.11},{"x":25,"y":59,"v":0.12},{"x":26,"y":59,"v":0.13},{"x":27,"y":59,"v":0.18},{"x":28,"y":59,"v":0.15},{"x":29,"y":59,"v":0.14},{"x":30,"y":59,"v":0.11},{"x":25,"y":58,"v":0.17},{"x":26,"y":58,"v":0.17},{"x":27,"y":58,"v":0.42},{"x":28,"y":58,"v":0.17},{"x":29,"y":58,"v":0.19},{"x":30,"y":58,"v":0.14},{"x":31,"y":58,"v":0.11},{"x":32,"y":58,"v":0.13},{"x":33,"y":58,"v":0.19},{"x":34,"y":58,"v":0.11},{"x":18,"y":58,"v":0.14},{"x":26,"y":57,"v":0.1},{"x":27,"y":57,"v":0.14},{"x":28,"y":57,"v":0.11},{"x":29,"y":57,"v":0.13},{"x":30,"y":57,"v":0.11},{"x":32,"y":57,"v":0.1},{"x":25,"y":56,"v":0.11},{"x":26,"y":56,"v":0.11},{"x":27,"y":56,"v":0.37},{"x":28,"y":56,"v":0.16},{"x":29,"y":56,"v":0.2},{"x":30,"y":56,"v":0.13},{"x":26,"y":55,"v":0.11},{"x":27,"y":55,"v":0.14},{"x":28,"y":55,"v":0.12},{"x":29,"y":55,"v":0.12},{"x":30,"y":55,"v":0.11},{"x":27,"y":54,"v":0.14},{"x":28,"y":54,"v":0.11},{"x":29,"y":54,"v":0.15},{"x":27,"y":53,"v":0.09},{"x":28,"y":53,"v":0.11},{"x":27,"y":52,"v":0.15},{"x":28,"y":52,"v":0.09},{"x":29,"y":51,"v":0.08},{"x":30,"y":51,"v":0.08},
{"x":85,"y":80,"v":0.16},{"x":89,"y":80,"v":0.24},{"x":90,"y":80,"v":0.11},{"x":93,"y":80,"v":0.11},{"x":83,"y":78,"v":0.1},{"x":84,"y":78,"v":0.11},{"x":85,"y":78,"v":0.11},{"x":89,"y":78,"v":0.32},{"x":90,"y":78,"v":0.11},{"x":93,"y":78,"v":0.15},{"x":89,"y":76,"v":0.21},{"x":90,"y":76,"v":0.13},{"x":92,"y":76,"v":0.15},{"x":93,"y":76,"v":0.5},{"x":96,"y":76,"v":0.13},{"x":115,"y":76,"v":0.17},{"x":117,"y":76,"v":0.13},{"x":116,"y":76,"v":0.11},{"x":93,"y":75,"v":0.15},{"x":115,"y":75,"v":0.12},{"x":117,"y":75,"v":0.12},{"x":89,"y":74,"v":0.11},{"x":92,"y":74,"v":0.14},{"x":93,"y":74,"v":0.3},{"x":96,"y":74,"v":0.35},{"x":99,"y":74,"v":0.11},{"x":100,"y":74,"v":0.15},{"x":112,"y":74,"v":0.11},{"x":115,"y":74,"v":0.2},{"x":116,"y":74,"v":0.14},{"x":117,"y":74,"v":0.2},{"x":118,"y":74,"v":0.11},{"x":96,"y":73,"v":0.11},{"x":117,"y":73,"v":0.16},{"x":96,"y":72,"v":0.11},{"x":100,"y":72,"v":0.13},{"x":117,"y":72,"v":0.14},{"x":100,"y":70,"v":0.13},{"x":108,"y":70,"v":0.11},{"x":112,"y":70,"v":0.11},{"x":92,"y":61,"v":0.14},{"x":95,"y":61,"v":0.11},{"x":96,"y":61,"v":0.11},{"x":89,"y":58,"v":0.14},{"x":92,"y":58,"v":0.16},{"x":93,"y":58,"v":0.15},{"x":96,"y":58,"v":0.21},{"x":100,"y":58,"v":0.16},{"x":112,"y":58,"v":0.11},{"x":115,"y":58,"v":0.19},{"x":117,"y":58,"v":0.16},{"x":89,"y":56,"v":0.15},{"x":92,"y":56,"v":0.17},{"x":93,"y":56,"v":0.23},{"x":96,"y":56,"v":0.36},{"x":97,"y":56,"v":0.14},{"x":99,"y":56,"v":0.13},{"x":100,"y":56,"v":0.24},{"x":108,"y":56,"v":0.14},{"x":112,"y":56,"v":0.16},{"x":115,"y":56,"v":0.24},{"x":116,"y":56,"v":0.16},{"x":117,"y":56,"v":0.22},{"x":107,"y":56,"v":0.11},{"x":104,"y":56,"v":0.11},{"x":96,"y":55,"v":0.13},{"x":100,"y":55,"v":0.12},{"x":112,"y":55,"v":0.14},{"x":115,"y":55,"v":0.15},{"x":117,"y":55,"v":0.16},{"x":93,"y":54,"v":0.13},{"x":96,"y":54,"v":0.17},{"x":100,"y":54,"v":0.18},{"x":107,"y":54,"v":0.12},{"x":108,"y":54,"v":0.17},{"x":109,"y":54,"v":0.15},{"x":111,"y":54,"v":0.14},{"x":112,"y":54,"v":0.2},{"x":115,"y":54,"v":0.18},{"x":117,"y":54,"v":0.18},{"x":111,"y":53,"v":0.13},{"x":112,"y":53,"v":0.14},{"x":93,"y":52,"v":0.13},{"x":96,"y":52,"v":0.15},{"x":100,"y":52,"v":0.16},{"x":108,"y":52,"v":0.13},{"x":111,"y":52,"v":0.14},{"x":112,"y":52,"v":0.19},{"x":115,"y":52,"v":0.14},{"x":112,"y":51,"v":0.13},{"x":89,"y":50,"v":0.14},{"x":92,"y":50,"v":0.16},{"x":93,"y":50,"v":0.2},{"x":96,"y":50,"v":0.22},{"x":97,"y":50,"v":0.15},{"x":99,"y":50,"v":0.14},{"x":100,"y":50,"v":0.21},{"x":108,"y":50,"v":0.14},{"x":112,"y":50,"v":0.2},{"x":115,"y":50,"v":0.22},{"x":117,"y":50,"v":0.15},{"x":115,"y":49,"v":0.16},{"x":92,"y":48,"v":0.13},{"x":93,"y":48,"v":0.14},{"x":96,"y":48,"v":0.15},{"x":115,"y":48,"v":0.14},{"x":89,"y":46,"v":0.2},{"x":90,"y":46,"v":0.15},{"x":92,"y":46,"v":0.23},{"x":93,"y":46,"v":0.25},{"x":96,"y":46,"v":0.2},{"x":115,"y":46,"v":0.14},{"x":117,"y":46,"v":0.12},{"x":89,"y":45,"v":0.19},{"x":92,"y":45,"v":0.15},{"x":93,"y":45,"v":0.15},{"x":89,"y":44,"v":0.13},{"x":89,"y":43,"v":0.24},{"x":92,"y":43,"v":0.14},{"x":89,"y":42,"v":0.22},{"x":92,"y":42,"v":0.11},{"x":93,"y":42,"v":0.11},{"x":89,"y":41,"v":0.1},{"x":89,"y":39,"v":0.1},
{"x":93,"y":117,"v":0.11},{"x":96,"y":117,"v":0.15},{"x":97,"y":117,"v":0.11},{"x":100,"y":117,"v":0.14},{"x":93,"y":115,"v":0.11},{"x":96,"y":115,"v":0.16},{"x":97,"y":115,"v":0.16},{"x":98,"y":115,"v":0.13},{"x":99,"y":115,"v":0.16},{"x":100,"y":115,"v":0.23},{"x":101,"y":115,"v":0.13},{"x":102,"y":115,"v":0.08},{"x":104,"y":115,"v":0.07},{"x":107,"y":115,"v":0.07},{"x":108,"y":115,"v":0.16},{"x":109,"y":115,"v":0.07},{"x":100,"y":112,"v":0.09},{"x":104,"y":112,"v":0.11},{"x":105,"y":112,"v":0.07},{"x":106,"y":112,"v":0.11},{"x":100,"y":109,"v":0.07},{"x":103,"y":109,"v":0.07},{"x":115,"y":109,"v":0.07},{"x":100,"y":108,"v":0.11},{"x":114,"y":108,"v":0.06},{"x":115,"y":108,"v":0.15},{"x":115,"y":107,"v":0.07},{"x":112,"y":106,"v":0.1},{"x":112,"y":105,"v":0.06},{"x":112,"y":104,"v":0.11},{"x":115,"y":104,"v":0.07},{"x":117,"y":104,"v":0.06},{"x":109,"y":103,"v":0.06},{"x":115,"y":102,"v":0.09},{"x":115,"y":101,"v":0.14},{"x":117,"y":101,"v":0.08},{"x":108,"y":100,"v":0.11},{"x":112,"y":100,"v":0.07},{"x":115,"y":100,"v":0.23},{"x":117,"y":100,"v":0.16},{"x":115,"y":99,"v":0.15},{"x":117,"y":99,"v":0.08},{"x":115,"y":98,"v":0.12},{"x":115,"y":97,"v":0.15},{"x":117,"y":97,"v":0.11},{"x":115,"y":96,"v":0.16},{"x":117,"y":96,"v":0.16},{"x":115,"y":93,"v":0.11},{"x":117,"y":93,"v":0.11},{"x":115,"y":92,"v":0.06},{"x":117,"y":92,"v":0.07},{"x":84,"y":90,"v":0.07},{"x":81,"y":89,"v":0.06},{"x":90,"y":85,"v":0.06},{"x":115,"y":90,"v":0.06},{"x":117,"y":90,"v":0.07},{"x":115,"y":89,"v":0.07},{"x":117,"y":89,"v":0.07},
{"x":70,"y":36,"v":0.11},{"x":74,"y":36,"v":0.11},{"x":76,"y":36,"v":0.11},{"x":89,"y":36,"v":0.15},{"x":93,"y":36,"v":0.11},{"x":115,"y":36,"v":0.1},{"x":70,"y":33,"v":0.11},{"x":72,"y":33,"v":0.1},{"x":74,"y":33,"v":0.13},{"x":76,"y":33,"v":0.13},{"x":89,"y":33,"v":0.13},{"x":92,"y":33,"v":0.1},{"x":93,"y":33,"v":0.15},{"x":96,"y":33,"v":0.11},{"x":115,"y":33,"v":0.11},{"x":70,"y":29,"v":0.12},{"x":72,"y":29,"v":0.14},{"x":74,"y":29,"v":0.16},{"x":76,"y":29,"v":0.11},{"x":89,"y":29,"v":0.14},{"x":90,"y":29,"v":0.11},{"x":92,"y":29,"v":0.15},{"x":93,"y":29,"v":0.2},{"x":96,"y":29,"v":0.16},{"x":100,"y":29,"v":0.09},{"x":112,"y":29,"v":0.09},{"x":115,"y":29,"v":0.14},{"x":116,"y":29,"v":0.1},{"x":117,"y":29,"v":0.12},{"x":93,"y":28,"v":0.1},{"x":96,"y":28,"v":0.1},{"x":115,"y":28,"v":0.11},{"x":116,"y":28,"v":0.11},{"x":117,"y":28,"v":0.11},{"x":70,"y":27,"v":0.17},{"x":71,"y":27,"v":0.11},{"x":72,"y":27,"v":0.21},{"x":73,"y":27,"v":0.14},{"x":74,"y":27,"v":0.38},{"x":75,"y":27,"v":0.11},{"x":76,"y":27,"v":0.2},{"x":89,"y":27,"v":0.21},{"x":90,"y":27,"v":0.16},{"x":92,"y":27,"v":0.24},{"x":93,"y":27,"v":0.31},{"x":94,"y":27,"v":0.1},{"x":95,"y":27,"v":0.11},{"x":96,"y":27,"v":0.25},{"x":97,"y":27,"v":0.13},{"x":99,"y":27,"v":0.11},{"x":100,"y":27,"v":0.16},{"x":107,"y":27,"v":0.1},{"x":108,"y":27,"v":0.1},{"x":112,"y":27,"v":0.11},{"x":115,"y":27,"v":0.2},{"x":116,"y":27,"v":0.1},{"x":117,"y":27,"v":0.18},{"x":70,"y":26,"v":0.1},{"x":71,"y":26,"v":0.1},{"x":72,"y":26,"v":0.11},{"x":73,"y":26,"v":0.11},{"x":74,"y":26,"v":0.13},{"x":115,"y":26,"v":0.12},{"x":116,"y":26,"v":0.11},{"x":117,"y":26,"v":0.11},{"x":70,"y":25,"v":0.11},{"x":72,"y":25,"v":0.15},{"x":73,"y":25,"v":0.11},{"x":74,"y":25,"v":0.17},{"x":76,"y":25,"v":0.14},{"x":89,"y":25,"v":0.15},{"x":90,"y":25,"v":0.11},{"x":92,"y":25,"v":0.11},{"x":93,"y":25,"v":0.14},{"x":96,"y":25,"v":0.13},{"x":100,"y":25,"v":0.11},{"x":108,"y":25,"v":0.11},{"x":115,"y":25,"v":0.14},{"x":116,"y":25,"v":0.11},{"x":117,"y":25,"v":0.12},{"x":73,"y":24,"v":0.11},{"x":74,"y":24,"v":0.11},{"x":75,"y":24,"v":0.11},
{"x":74,"y":18,"v":0.11},{"x":76,"y":18,"v":0.11},{"x":89,"y":18,"v":0.11},{"x":93,"y":18,"v":0.11},{"x":74,"y":17,"v":0.11},{"x":76,"y":17,"v":0.15},{"x":89,"y":17,"v":0.15},{"x":93,"y":17,"v":0.16},{"x":96,"y":17,"v":0.11},{"x":76,"y":16,"v":0.17},{"x":89,"y":16,"v":0.18},{"x":93,"y":16,"v":0.2},{"x":89,"y":15,"v":0.14},{"x":76,"y":15,"v":0.13},{"x":76,"y":14,"v":0.15},{"x":89,"y":14,"v":0.16},{"x":76,"y":13,"v":0.13},{"x":79,"y":13,"v":0.13},{"x":80,"y":13,"v":0.15},{"x":81,"y":13,"v":0.12},{"x":89,"y":13,"v":0.2},{"x":92,"y":13,"v":0.16},{"x":93,"y":13,"v":0.16},{"x":96,"y":13,"v":0.14},{"x":79,"y":12,"v":0.12},{"x":80,"y":12,"v":0.15},{"x":81,"y":12,"v":0.15},{"x":85,"y":12,"v":0.12},{"x":89,"y":12,"v":0.14},{"x":76,"y":8,"v":0.11},{"x":85,"y":8,"v":0.11},{"x":89,"y":8,"v":0.11},{"x":93,"y":8,"v":0.11},{"x":76,"y":7,"v":0.15},{"x":89,"y":7,"v":0.11},{"x":93,"y":7,"v":0.11},{"x":115,"y":7,"v":0.11},{"x":74,"y":5,"v":0.13},{"x":76,"y":5,"v":0.14},{"x":115,"y":5,"v":0.13},{"x":116,"y":5,"v":0.11},{"x":117,"y":5,"v":0.11},{"x":115,"y":4,"v":0.13}
]},
"hconcat":[{"width":1440,"height":1440,"layer":[
{"data":{"name":"blocks"},"mark":{"type":"rect"},"encoding":{"x":{"field":"x0","type":"quantitative","scale":{"domain":[0.5,118.5],"nice":false,"zero":false},"axis":{"orient":"bottom","title":"Residue index","values":[1,20,40,60,80,100],"labelAngle":90,"labelAlign":"left","labelBaseline":"middle","titlePadding":21}},"x2":{"field":"x1"},"y":{"field":"y0","type":"quantitative","scale":{"domain":[0.5,118.5],"nice":false,"zero":false},"axis":{"orient":"left","title":"Residue index","values":[1,20,40,60,80,100],"titlePadding":22}},"y2":{"field":"y1"},"color":{"field":"v","type":"quantitative","legend":null,"scale":{"domain":[0,0.11,0.125,0.34,0.35,0.375,0.64,0.65,0.66,0.89,0.91,1],"range":["#00007f","#0000ff","#0000ff","#00dbff","#00e5f7","#14ffe2","#edff08","#f5f500","#ffec00","#ff1300","#e80000","#7f0000"]}}}},
{"data":{"name":"stripes"},"mark":{"type":"rect","opacity":0.45},"encoding":{"x":{"field":"x0","type":"quantitative","axis":null},"x2":{"field":"x1"},"y":{"field":"y0","type":"quantitative","axis":null},"y2":{"field":"y1"},"color":{"field":"v","type":"quantitative","legend":null}}},
{"data":{"name":"cells"},"mark":{"type":"rect","width":12.4,"height":12.4},"encoding":{"x":{"field":"x","type":"quantitative","axis":{"orient":"top","title":null,"values":[1,20,40,60,80,100],"labels":false}},"y":{"field":"y","type":"quantitative","axis":{"orient":"right","title":null,"values":[1,20,40,60,80,100],"labels":false}},"color":{"field":"v","type":"quantitative","legend":null}}},
{"data":{"values":[{"frame":1}]},"mark":{"type":"rect","filled":false,"stroke":"black","strokeWidth":4},"encoding":{}}
],"resolve":{"axis":{"x":"independent","y":"independent"}}},
{"width":72,"height":1440,"layer":[
{"data":{"values":[{"v":0.0},{"v":0.01},{"v":0.02},{"v":0.03},{"v":0.04},{"v":0.05},{"v":0.06},{"v":0.07},{"v":0.08},{"v":0.09},{"v":0.1},{"v":0.11},{"v":0.12},{"v":0.13},{"v":0.14},{"v":0.15},{"v":0.16},{"v":0.17},{"v":0.18},{"v":0.19},{"v":0.2},{"v":0.21},{"v":0.22},{"v":0.23},{"v":0.24},{"v":0.25},{"v":0.26},{"v":0.27},{"v":0.28},{"v":0.29},{"v":0.3},{"v":0.31},{"v":0.32},{"v":0.33},{"v":0.34},{"v":0.35},{"v":0.36},{"v":0.37},{"v":0.38},{"v":0.39},{"v":0.4},{"v":0.41},{"v":0.42},{"v":0.43},{"v":0.44},{"v":0.45},{"v":0.46},{"v":0.47},{"v":0.48},{"v":0.49},{"v":0.5},{"v":0.51},{"v":0.52},{"v":0.53},{"v":0.54},{"v":0.55},{"v":0.56},{"v":0.57},{"v":0.58},{"v":0.59},{"v":0.6},{"v":0.61},{"v":0.62},{"v":0.63},{"v":0.64},{"v":0.65},{"v":0.66},{"v":0.67},{"v":0.68},{"v":0.69},{"v":0.7},{"v":0.71},{"v":0.72},{"v":0.73},{"v":0.74},{"v":0.75},{"v":0.76},{"v":0.77},{"v":0.78},{"v":0.79},{"v":0.8},{"v":0.81},{"v":0.82},{"v":0.83},{"v":0.84},{"v":0.85},{"v":0.86},{"v":0.87},{"v":0.88},{"v":0.89},{"v":0.9},{"v":0.91},{"v":0.92},{"v":0.93},{"v":0.94},{"v":0.95},{"v":0.96},{"v":0.97},{"v":0.98},{"v":0.99},{"v":1.0}]},"mark":{"type":"rect","height":15,"clip":true},"encoding":{"y":{"field":"v","type":"quantitative","scale":{"domain":[0,1],"nice":false},"axis":{"orient":"right","title":null,"values":[0,0.1,0.2,0.3,0.4,0.5,0.6,0.7,0.8,0.9,1],"format":".1f"}},"color":{"field":"v","type":"quantitative","legend":null,"scale":{"domain":[0,0.11,0.125,0.34,0.35,0.375,0.64,0.65,0.66,0.89,0.91,1],"range":["#00007f","#0000ff","#0000ff","#00dbff","#00e5f7","#14ffe2","#edff08","#f5f500","#ffec00","#ff1300","#e80000","#7f0000"]}}}},
{"data":{"values":[{"frame":1}]},"mark":{"type":"rect","filled":false,"stroke":"black","strokeWidth":4},"encoding":{}}
]}],"resolve":{"scale":{"color":"independent"}}}
